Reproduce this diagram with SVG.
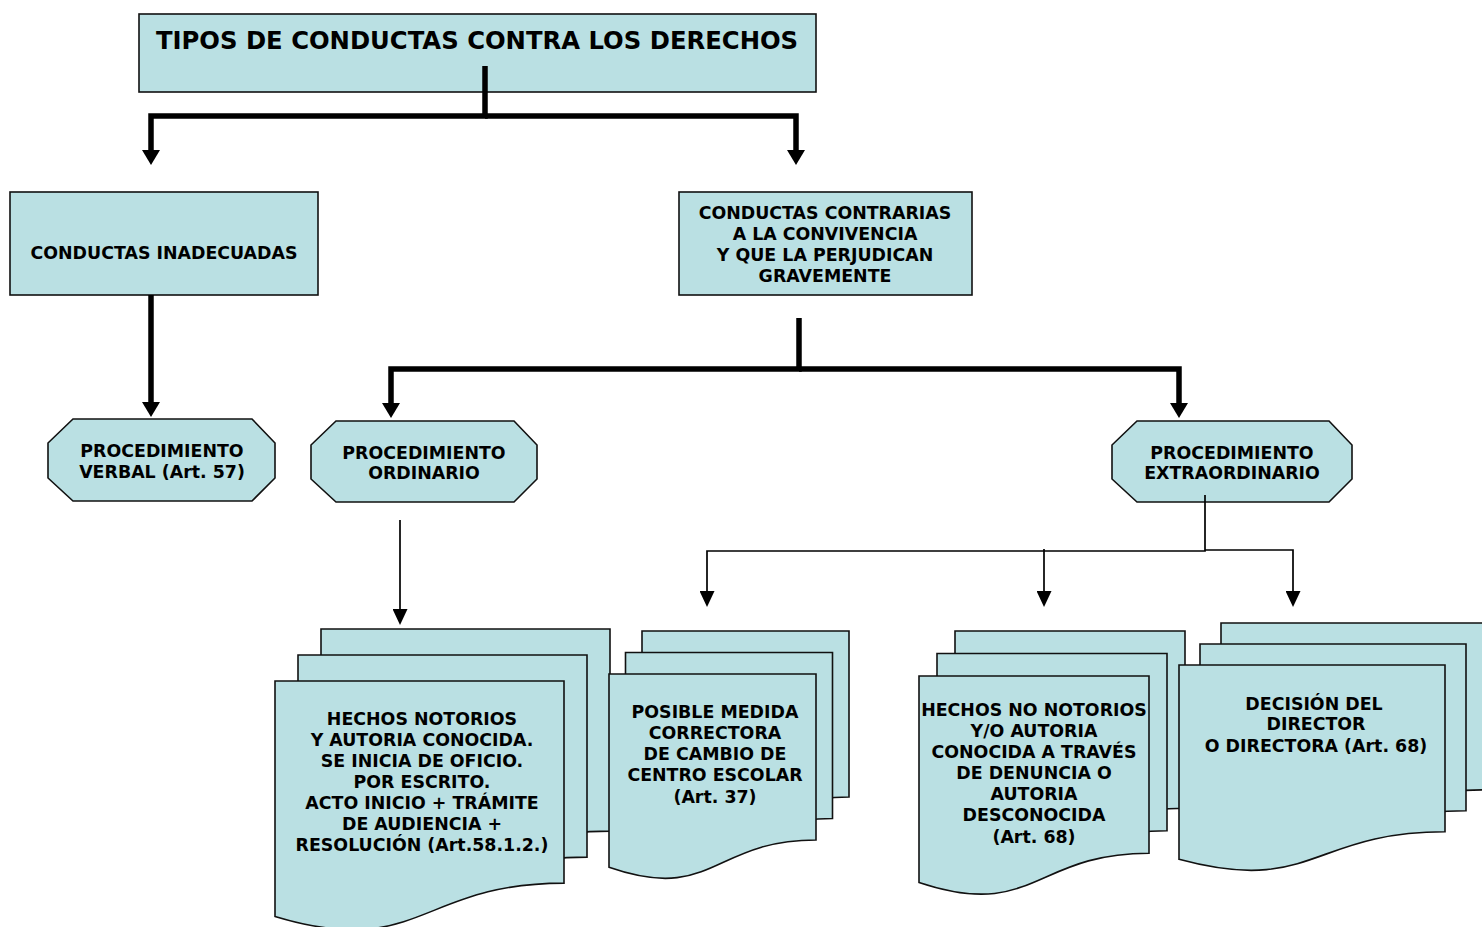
<svg xmlns="http://www.w3.org/2000/svg" width="1482" height="927" viewBox="0 0 1482 927">
<defs>
<style>
.box{fill:#BAE0E3;stroke:#111;stroke-width:1.6}
.t{font-family:"DejaVu Sans","Verdana",sans-serif;font-weight:bold;font-size:17.4px;fill:#000;text-anchor:middle}
.title{font-size:24.3px}
.thick{fill:none;stroke:#000;stroke-width:5.5;stroke-linejoin:miter}
.thin{fill:none;stroke:#000;stroke-width:1.7;stroke-linejoin:miter}
</style>
<marker id="ahThick" markerUnits="userSpaceOnUse" viewBox="0 0 15 18" refX="0" refY="9" markerWidth="15" markerHeight="18" orient="auto">
<path d="M0,0 L15,9 L0,18 Z" fill="#000"/>
</marker>
<marker id="ahThin" markerUnits="userSpaceOnUse" viewBox="0 0 16 15" refX="0" refY="7.5" markerWidth="16" markerHeight="15" orient="auto">
<path d="M0,0 L16,7.5 L0,15 Z" fill="#000"/>
</marker>
</defs>
<rect width="1482" height="927" fill="#fff"/>

<g id="title">
<rect class="box" x="139" y="14" width="677" height="78"/>
<text class="t title" x="477" y="49">TIPOS DE CONDUCTAS CONTRA LOS DERECHOS</text>
</g>

<g id="inadecuadas">
<rect class="box" x="10" y="192" width="308" height="103"/>
<text class="t" x="164" y="259">CONDUCTAS INADECUADAS</text>
</g>

<g id="contrarias">
<rect class="box" x="679" y="192" width="293" height="103"/>
<text class="t" x="825" y="219">CONDUCTAS CONTRARIAS</text>
<text class="t" x="825" y="240">A LA CONVIVENCIA</text>
<text class="t" x="825" y="261">Y QUE LA PERJUDICAN</text>
<text class="t" x="825" y="282">GRAVEMENTE</text>
</g>

<g id="verbal">
<polygon class="box" points="73,419 252,419 275,443 275,478 252,501 73,501 48,478 48,443"/>
<text class="t" x="162" y="457">PROCEDIMIENTO</text>
<text class="t" x="162" y="478">VERBAL (Art. 57)</text>
</g>

<g id="ordinario">
<polygon class="box" points="336,421 514,421 537,445 537,479 514,502 336,502 311,479 311,445"/>
<text class="t" x="424" y="459">PROCEDIMIENTO</text>
<text class="t" x="424" y="479">ORDINARIO</text>
</g>

<g id="extraordinario">
<polygon class="box" points="1137,421 1329,421 1352,445 1352,479 1329,502 1137,502 1112,479 1112,445"/>
<text class="t" x="1232" y="459">PROCEDIMIENTO</text>
<text class="t" x="1232" y="479">EXTRAORDINARIO</text>
</g>

<g id="doc-notorios">
<path class="box" d="M321,629 H610 V831.1 C465.5,831.1 465.5,908.1 321,864.4 Z"/>
<path class="box" d="M298,655 H587 V857.1 C442.5,857.1 442.5,934.1 298,890.4 Z"/>
<path class="box" d="M275,681 H564 V883.1 C419.5,883.1 419.5,960.1 275,916.4 Z"/>
<text class="t" x="422" y="725">HECHOS NOTORIOS</text>
<text class="t" x="422" y="746">Y AUTORIA CONOCIDA.</text>
<text class="t" x="422" y="767">SE INICIA DE OFICIO.</text>
<text class="t" x="422" y="788">POR ESCRITO.</text>
<text class="t" x="422" y="809">ACTO INICIO + TRÁMITE</text>
<text class="t" x="422" y="830">DE AUDIENCIA +</text>
<text class="t" x="422" y="851">RESOLUCIÓN (Art.58.1.2.)</text>
</g>

<g id="doc-medida">
<path class="box" d="M642,631 H849 V797 C745.5,797 745.5,860.3 642,824.3 Z"/>
<path class="box" d="M625.5,652.5 H832.5 V818.5 C729,818.5 729,881.8 625.5,845.8 Z"/>
<path class="box" d="M609,674 H816 V840 C712.5,840 712.5,903.3 609,867.3 Z"/>
<text class="t" x="715" y="718">POSIBLE MEDIDA</text>
<text class="t" x="715" y="739">CORRECTORA</text>
<text class="t" x="715" y="760">DE CAMBIO DE</text>
<text class="t" x="715" y="781">CENTRO ESCOLAR</text>
<text class="t" x="715" y="803">(Art. 37)</text>
</g>

<g id="doc-no-notorios">
<path class="box" d="M955,631 H1185 V808.2 C1070,808.2 1070,875.8 955,837.4 Z"/>
<path class="box" d="M937,653.5 H1167 V830.7 C1052,830.7 1052,898.3 937,859.9 Z"/>
<path class="box" d="M919,676 H1149 V853.2 C1034,853.2 1034,920.8 919,882.4 Z"/>
<text class="t" x="1034" y="716">HECHOS NO NOTORIOS</text>
<text class="t" x="1034" y="737">Y/O AUTORIA</text>
<text class="t" x="1034" y="758">CONOCIDA A TRAVÉS</text>
<text class="t" x="1034" y="779">DE DENUNCIA O</text>
<text class="t" x="1034" y="800">AUTORIA</text>
<text class="t" x="1034" y="821">DESCONOCIDA</text>
<text class="t" x="1034" y="843">(Art. 68)</text>
</g>

<g id="doc-decision">
<path class="box" d="M1221,623 H1487 V789.8 C1354,789.8 1354,853.4 1221,817.3 Z"/>
<path class="box" d="M1200,644 H1466 V810.8 C1333,810.8 1333,874.4 1200,838.3 Z"/>
<path class="box" d="M1179,665 H1445 V831.8 C1312,831.8 1312,895.4 1179,859.3 Z"/>
<text class="t" x="1314" y="710">DECISIÓN DEL</text>
<text class="t" x="1316" y="730">DIRECTOR</text>
<text class="t" x="1316" y="752">O DIRECTORA (Art. 68)</text>
</g>

<g id="connectors">
<path class="thick" d="M485,66 V116 H151 V150" marker-end="url(#ahThick)"/>
<path class="thick" d="M485,116 H796 V150" marker-end="url(#ahThick)"/>
<path class="thick" d="M151,295 V402" marker-end="url(#ahThick)"/>
<path class="thick" d="M799,318 V369 H391 V403" marker-end="url(#ahThick)"/>
<path class="thick" d="M799,369 H1179 V403" marker-end="url(#ahThick)"/>
<path class="thin" d="M400,520 V609" marker-end="url(#ahThin)"/>
<path class="thin" d="M1205,495 V551 H707 V591" marker-end="url(#ahThin)"/>
<path class="thin" d="M1205,550 H1293 V591" marker-end="url(#ahThin)"/>
<path class="thin" d="M1044,549 V591" marker-end="url(#ahThin)"/>
</g>
</svg>
